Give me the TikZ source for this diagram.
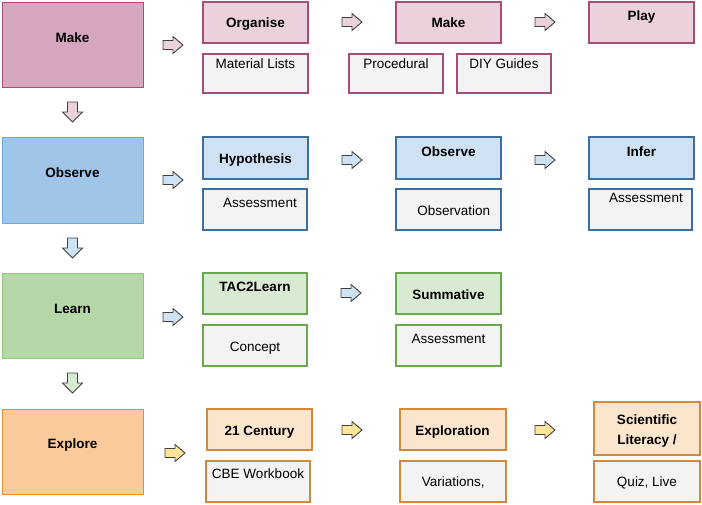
\documentclass[tikz,border=0pt]{standalone}
\usepackage{fontspec}
\setmainfont{Liberation Sans}
\definecolor{pinkA}{HTML}{D5A6BD}
\definecolor{pinkB}{HTML}{EAD1DC}
\definecolor{pinkD}{HTML}{A64D79}
\definecolor{blueA}{HTML}{9FC5E8}
\definecolor{blueB}{HTML}{CFE2F3}
\definecolor{blueDA}{HTML}{6FA8DC}
\definecolor{blueD}{HTML}{3D6E9F}
\definecolor{greenA}{HTML}{B6D7A8}
\definecolor{greenB}{HTML}{D9EAD3}
\definecolor{greenDA}{HTML}{93C47D}
\definecolor{greenD}{HTML}{6AA84F}
\definecolor{orA}{HTML}{F9CB9C}
\definecolor{orB}{HTML}{FCE5CD}
\definecolor{orDA}{HTML}{E69138}
\definecolor{orD}{HTML}{D4883A}
\definecolor{greyB}{HTML}{F3F3F3}
\definecolor{yelA}{HTML}{FFE599}
\definecolor{arrD}{HTML}{404040}
\tikzset{
  boxbase/.style={rectangle, inner sep=0pt, outer sep=0pt},
  bigbox/.style={boxbase, line width=1pt},
  smallbox/.style={boxbase, line width=1.3pt},
  txt/.style={inner sep=0pt, anchor=base, font=\fontsize{13.5}{16}\selectfont},
  btxt/.style={txt, font=\fontsize{13.5}{16}\selectfont\bfseries},
  blockarrow/.style={draw=arrD, line width=0.9pt, line join=miter},
}
\newcommand\bx[6]{\node[#6, minimum width={(#4-#2)*1pt}, minimum height={(#5-#3)*1pt}] (#1) at ({(#2+#4)/2},{(#3+#5)/2}) {};}
\newcommand\rarr[4]{\coordinate (#1) at (#2,#3);
  \draw[blockarrow, fill=#4] (#1) ++(-10,-4.5) -- ++(10,0) -- ++(0,-4) -- ++(10,8.5) -- ++(-10,8.5) -- ++(0,-4) -- ++(-10,0) -- cycle;}
\newcommand\darr[4]{\coordinate (#1) at (#2,#3);
  \draw[blockarrow, fill=#4] (#1) ++(-5,-10) -- ++(10,0) -- ++(0,10) -- ++(5,0) -- ++(-10,10) -- ++(-10,-10) -- ++(5,0) -- cycle;}
\begin{document}
\begin{tikzpicture}[x=1pt,y=-1pt]
\useasboundingbox (0,0) rectangle (702,504);
% ---------- Row 1: Make ----------
\bx{makeB}{2}{2}{143}{87}{bigbox, fill=pinkA, draw=pinkD}
\bx{organise}{203}{2}{308}{43}{smallbox, fill=pinkB, draw=pinkD}
\bx{matlists}{203}{54}{308}{93}{smallbox, fill=greyB, draw=pinkD}
\bx{makeS}{396}{2}{501}{43}{smallbox, fill=pinkB, draw=pinkD}
\bx{procedural}{349}{54}{443}{93}{smallbox, fill=greyB, draw=pinkD}
\bx{diy}{457}{54}{551}{93}{smallbox, fill=greyB, draw=pinkD}
\bx{play}{589}{2}{694}{43}{smallbox, fill=pinkB, draw=pinkD}
\node[btxt] (tMakeB) at (72.5,42) {Make};
\node[btxt] (tOrganise) at (255.5,27) {Organise};
\node[txt] (tMat) at (255.5,68) {Material Lists};
\node[btxt] (tMakeS) at (448.5,27) {Make};
\node[txt] (tProc) at (396,68) {Procedural};
\node[txt] (tDiy) at (504,68) {DIY Guides};
\node[btxt] (tPlay) at (641.5,20) {Play};
\rarr{a11}{173}{45}{pinkB}
\rarr{a12}{352}{22}{pinkB}
\rarr{a13}{545}{22}{pinkB}
\darr{d1}{72.5}{112}{pinkB}
% ---------- Row 2: Observe ----------
\bx{observeB}{2}{137}{143}{223}{bigbox, fill=blueA, draw=blueDA}
\bx{hypo}{203}{137}{308}{179}{smallbox, fill=blueB, draw=blueD}
\bx{assess1}{203}{189}{307}{230}{smallbox, fill=greyB, draw=blueD}
\bx{observeS}{396}{137}{501}{179}{smallbox, fill=blueB, draw=blueD}
\bx{observation}{396}{189}{501}{230}{smallbox, fill=greyB, draw=blueD}
\bx{infer}{589}{137}{694}{179}{smallbox, fill=blueB, draw=blueD}
\bx{assess2}{589}{189}{692}{230}{smallbox, fill=greyB, draw=blueD}
\node[btxt] (tObsB) at (72.5,177) {Observe};
\node[btxt] (tHypo) at (255.5,163) {Hypothesis};
\node[txt] (tAss1) at (260,207) {Assessment};
\node[btxt] (tObsS) at (448.5,156) {Observe};
\node[txt] (tObsn) at (453.7,215) {Observation};
\node[btxt] (tInfer) at (641.5,156) {Infer};
\node[txt] (tAss2) at (646,202) {Assessment};
\rarr{a21}{173}{180}{blueB}
\rarr{a22}{352}{160}{blueB}
\rarr{a23}{545}{160}{blueB}
\darr{d2}{72.5}{248}{blueB}
% ---------- Row 3: Learn ----------
\bx{learnB}{2}{273}{143}{358}{bigbox, fill=greenA, draw=greenDA}
\bx{tac}{203}{273}{307}{314}{smallbox, fill=greenB, draw=greenD}
\bx{concept}{203}{325}{307}{366}{smallbox, fill=greyB, draw=greenD}
\bx{summ}{396}{273}{501}{314}{smallbox, fill=greenB, draw=greenD}
\bx{assess3}{396}{325}{501}{366}{smallbox, fill=greyB, draw=greenD}
\node[btxt] (tLearn) at (72.5,313) {Learn};
\node[btxt] (tTac) at (255,291) {TAC2Learn};
\node[txt] (tConcept) at (255,351) {Concept};
\node[btxt] (tSumm) at (448.5,299) {Summative};
\node[txt] (tAss3) at (448.5,343) {Assessment};
\rarr{a31}{173}{317}{blueB}
\rarr{a32}{351}{293}{blueB}
\darr{d3}{72.5}{383}{greenB}
% ---------- Row 4: Explore ----------
\bx{exploreB}{2}{409}{143}{494}{bigbox, fill=orA, draw=orDA}
\bx{century}{207}{409}{312}{450}{smallbox, fill=orB, draw=orD}
\bx{cbe}{206}{461}{310}{502}{smallbox, fill=greyB, draw=orD}
\bx{exploration}{400}{409}{506}{450}{smallbox, fill=orB, draw=orD}
\bx{variations}{400}{461}{506}{502}{smallbox, fill=greyB, draw=orD}
\bx{sci}{594}{402}{700}{455}{smallbox, fill=orB, draw=orD}
\bx{quiz}{594}{461}{700}{502}{smallbox, fill=greyB, draw=orD}
\node[btxt] (tExplore) at (72.5,448) {Explore};
\node[btxt] (tCentury) at (259.5,435) {21 Century};
\node[txt] (tCbe) at (258,478) {CBE Workbook};
\node[btxt] (tExploration) at (452.5,435) {Exploration};
\node[txt] (tVar) at (453.3,486) {Variations,};
\node[btxt] (tSci1) at (647,424) {Scientific};
\node[btxt] (tSci2) at (647,444) {Literacy /};
\node[txt] (tQuiz) at (647,486) {Quiz, Live};
\rarr{a41}{175}{453}{yelA}
\rarr{a42}{352}{430}{yelA}
\rarr{a43}{545}{430}{yelA}
\end{tikzpicture}
\end{document}
